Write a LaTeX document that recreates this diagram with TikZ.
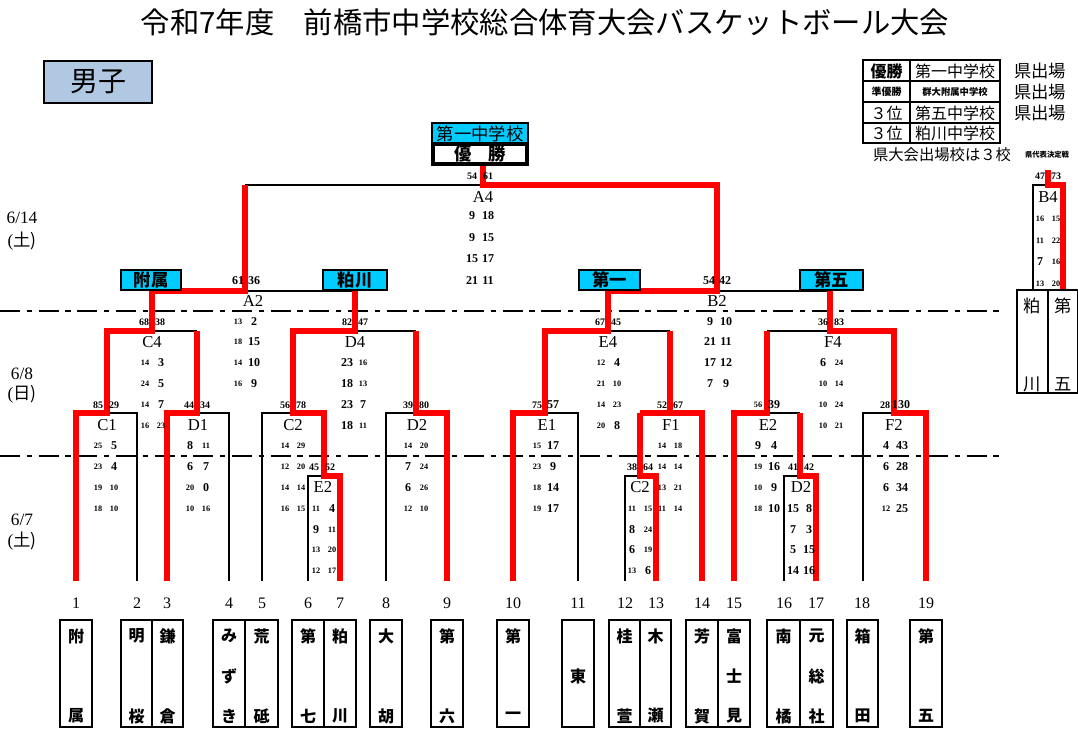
\documentclass[tikz,border=0pt]{standalone}
\usepackage{fontspec}
\setmainfont{Liberation Serif}
\newfontfamily\cjk{Noto Sans CJK JP}
\definecolor{cyanbox}{HTML}{00CCFF}
\definecolor{boybox}{HTML}{B0C8E2}
\newcounter{scn}
\tikzset{
  blk/.style={line width=1.1pt, black},
  rd/.style={line width=3.8pt, red, line join=miter},
  dd/.style={line width=1.3pt, black, dash pattern=on 15pt off 5pt on 4pt off 5pt},
  n/.style={inner sep=0pt, font=\fontsize{9}{9}\selectfont\bfseries},
  s/.style={inner sep=0pt, font=\fontsize{6.2}{6.2}\selectfont\bfseries},
  m/.style={inner sep=0pt, font=\fontsize{7.5}{7.5}\selectfont\bfseries},
  lab/.style={inner sep=0pt, font=\fontsize{12.5}{12.5}\selectfont},
  cy/.style={draw=black, line width=1.3pt, fill=cyanbox},
  cyt/.style={inner sep=0pt, font=\fontsize{13}{13}\selectfont\cjk\bfseries},
  tb/.style={draw=black, line width=1.1pt},
  tn/.style={inner sep=0pt, font=\fontsize{12}{12}\selectfont\cjk\bfseries},
  num/.style={inner sep=0pt, font=\fontsize{12}{12}\selectfont},
  dt/.style={inner sep=0pt, font=\fontsize{13}{13}\selectfont},
  lg/.style={draw=black, line width=1.5pt},
  lgt/.style={inner sep=0pt, font=\fontsize{12}{12}\selectfont\cjk},
}
\newcommand{\qs}[6]{\stepcounter{scn}%
  \node[#3] (qa\thescn) at ({#1-8},#2) {#4};%
  \node[#5] (qb\thescn) at ({#1+8},#2) {#6};}
\begin{document}
\begin{tikzpicture}[x=0.75pt,y=-0.75pt]
\useasboundingbox (0,0) rectangle (1078,730);
\fill[white] (0,0) rectangle (1078,730);

% title
\node[inner sep=0pt, font=\fontsize{22}{22}\selectfont\cjk] (title) at (545,22) {令和7年度　前橋市中学校総合体育大会バスケットボール大会};
\draw[line width=2.2pt, fill=boybox] (44,61) rectangle (152,103);
\node[inner sep=0pt, font=\fontsize{21}{21}\selectfont\cjk] (boys) at (98,82) {男子};

% legend
\draw[lg] (863,60) rectangle (910,81); \draw[lg] (910,60) rectangle (1000,81);
\draw[lg] (863,81) rectangle (910,102); \draw[lg] (910,81) rectangle (1000,102);
\draw[lg] (863,102) rectangle (910,123); \draw[lg] (910,102) rectangle (1000,123);
\draw[lg] (863,123) rectangle (910,143); \draw[lg] (910,123) rectangle (1000,143);
\node[lgt, font=\fontsize{12}{12}\selectfont\cjk\bfseries] (l1a) at (886.5,71) {優勝};
\node[lgt] (l1b) at (955,71) {第一中学校};
\node[lgt, font=\fontsize{7.5}{7.5}\selectfont\cjk\bfseries] (l2a) at (886.5,92) {準優勝};
\node[lgt, font=\fontsize{7}{7}\selectfont\cjk\bfseries] (l2b) at (955,92) {群大附属中学校};
\node[lgt] (l3a) at (886.5,113) {３位};
\node[lgt] (l3b) at (955,113) {第五中学校};
\node[lgt] (l4a) at (886.5,133) {３位};
\node[lgt] (l4b) at (955,133) {粕川中学校};
\node[lgt, font=\fontsize{13}{13}\selectfont\cjk] (k1) at (1040,71) {県出場};
\node[lgt, font=\fontsize{13}{13}\selectfont\cjk] (k2) at (1040,92) {県出場};
\node[lgt, font=\fontsize{13}{13}\selectfont\cjk] (k3) at (1040,113) {県出場};
\node[lgt, font=\fontsize{11.5}{11.5}\selectfont\cjk] (ken3) at (942,155) {県大会出場校は３校};
\node[lgt, font=\fontsize{5.5}{5.5}\selectfont\cjk\bfseries] (kdk) at (1047,155) {県代表決定戦};

% dates
\node[dt] (d1a) at (22,218) {6/14};
\node[dt] (d1b) at (22,241) {(\cjk 土)};
\node[dt] (d2a) at (22,374) {6/8};
\node[dt] (d2b) at (22,394) {(\cjk 日)};
\node[dt] (d3a) at (22,520) {6/7};
\node[dt] (d3b) at (22,541) {(\cjk 土)};

% dash-dot separators
\draw[dd] (0,311) -- (1000,311);
\draw[dd] (0,456) -- (1000,456);

% black bracket lines
\draw[blk] (137,581) -- (137,413) -- (107,413);
\draw[blk] (229,581) -- (229,413) -- (197,413);
\draw[blk] (262,581) -- (262,413) -- (293,413);
\draw[blk] (308,581) -- (308,476) -- (324,476);
\draw[blk] (386,581) -- (386,413) -- (416,413);
\draw[blk] (578,581) -- (578,413) -- (545,413);
\draw[blk] (625,581) -- (625,476) -- (640,476);
\draw[blk] (784,581) -- (784,476) -- (800,476);
\draw[blk] (863,581) -- (863,413) -- (894,413);
\draw[blk] (152,331) -- (197,331);
\draw[blk] (355,331) -- (416,331);
\draw[blk] (608,331) -- (670,331);
\draw[blk] (767,331) -- (830,331);
\draw[blk] (767,413) -- (800,413);
\draw[blk] (245,291) -- (355,291);
\draw[blk] (717,291) -- (830,291);
\draw[blk] (245,185) -- (483,185);
\draw[blk] (1033,290) -- (1033,185) -- (1048,185);

% red winner paths
\draw[rd] (76,581) -- (76,413) -- (107,413) -- (107,331) -- (152,331) -- (152,291) -- (245,291) -- (245,185);
\draw[rd] (167,581) -- (167,413) -- (197,413) -- (197,331);
\draw[rd] (340,581) -- (340,476) -- (324,476) -- (324,413) -- (293,413) -- (293,331) -- (355,331) -- (355,291);
\draw[rd] (447,581) -- (447,413) -- (416,413) -- (416,331);
\draw[rd] (513,581) -- (513,413) -- (545,413) -- (545,331) -- (608,331) -- (608,291) -- (717,291) -- (717,185) -- (483,185) -- (483,165);
\draw[rd] (656,581) -- (656,476) -- (640,476) -- (640,413);
\draw[rd] (702,581) -- (702,413) -- (640,413);
\draw[rd] (670,413) -- (670,331);
\draw[rd] (734,581) -- (734,413) -- (767,413) -- (767,331);
\draw[rd] (816,581) -- (816,476) -- (800,476) -- (800,413);
\draw[rd] (926,581) -- (926,413) -- (894,413) -- (894,331) -- (830,331) -- (830,291);
\draw[rd] (1063,290) -- (1063,185) -- (1048,185) -- (1048,170);

% top boxes
\draw[line width=1.1pt, fill=cyanbox] (432,123) rectangle (528,143);
\node[inner sep=0pt, font=\fontsize{13}{13}\selectfont\cjk] (champ) at (480,133.5) {第一中学校};
\draw[line width=2.6pt, fill=white] (433,144) rectangle (527,164);
\node[cyt] (yusho) at (480,154) {優　勝};
\draw[cy] (121,270) rectangle (181,290);
\node[cyt] (cfz) at (151,280) {附属};
\draw[cy] (323,270) rectangle (387,290);
\node[cyt] (ckk) at (355,280) {粕川};
\draw[cy] (579,270) rectangle (640,290);
\node[cyt] (cd1) at (609.5,280) {第一};
\draw[cy] (800,270) rectangle (863,290);
\node[cyt] (cd5) at (831.5,280) {第五};

% B4 name boxes
\draw[tb] (1017,290) rectangle (1048,393);
\draw[tb] (1048,290) rectangle (1077.5,393);
\node[inner sep=0pt, font=\fontsize{13}{13}\selectfont\cjk] (b4a1) at (1032.5,306) {粕};
\node[inner sep=0pt, font=\fontsize{13}{13}\selectfont\cjk] (b4a2) at (1032.5,384) {川};
\node[inner sep=0pt, font=\fontsize{13}{13}\selectfont\cjk] (b4b1) at (1063,306) {第};
\node[inner sep=0pt, font=\fontsize{13}{13}\selectfont\cjk] (b4b2) at (1063,384) {五};

% match labels
\node[lab] (A4) at (483,197) {A4};
\node[lab] (A2) at (253,301) {A2};
\node[lab] (B2) at (717,301) {B2};
\node[lab] (C4) at (152,342) {C4};
\node[lab] (D4) at (355,342) {D4};
\node[lab] (E4) at (608,342) {E4};
\node[lab] (F4) at (833,342) {F4};
\node[lab] (C1) at (107,425) {C1};
\node[lab] (D1) at (198,425) {D1};
\node[lab] (C2a) at (293,425) {C2};
\node[lab] (D2a) at (417,425) {D2};
\node[lab] (E1) at (547,425) {E1};
\node[lab] (F1) at (671,425) {F1};
\node[lab] (E2b) at (768,425) {E2};
\node[lab] (F2) at (894,425) {F2};
\node[lab] (E2a) at (323,487) {E2};
\node[lab] (C2b) at (640,487) {C2};
\node[lab] (D2b) at (801,487) {D2};
\node[lab] (B4) at (1048,197) {B4};

% scores
\qs{480}{176}{m}{54}{m}{61}
\qs{480}{216}{n}{9}{n}{18}
\qs{480}{238}{n}{9}{n}{15}
\qs{480}{259}{n}{15}{n}{17}
\qs{480}{281}{n}{21}{n}{11}

\qs{246}{281}{n}{61}{n}{36}
\qs{246}{322}{s}{13}{n}{2}
\qs{246}{342}{s}{18}{n}{15}
\qs{246}{363}{s}{14}{n}{10}
\qs{246}{384}{s}{16}{n}{9}

\qs{717}{281}{n}{54}{n}{42}
\qs{718}{322}{n}{9}{n}{10}
\qs{718}{342}{n}{21}{n}{11}
\qs{718}{363}{n}{17}{n}{12}
\qs{718}{384}{n}{7}{n}{9}

\qs{152}{322}{m}{68}{m}{38}
\qs{153}{363}{s}{14}{n}{3}
\qs{153}{384}{s}{24}{n}{5}
\qs{153}{405}{s}{14}{n}{7}
\qs{153}{426}{s}{16}{s}{23}

\qs{355}{322}{m}{82}{m}{47}
\qs{355}{363}{n}{23}{s}{16}
\qs{355}{384}{n}{18}{s}{13}
\qs{355}{405}{n}{23}{n}{7}
\qs{355}{426}{n}{18}{s}{11}

\qs{608}{322}{m}{67}{m}{45}
\qs{609}{363}{s}{12}{n}{4}
\qs{609}{384}{s}{21}{s}{10}
\qs{609}{405}{s}{14}{s}{23}
\qs{609}{426}{s}{20}{n}{8}

\qs{831}{322}{m}{36}{m}{83}
\qs{831}{363}{n}{6}{s}{24}
\qs{831}{384}{s}{10}{s}{14}
\qs{831}{405}{s}{10}{s}{24}
\qs{831}{426}{s}{10}{s}{21}

\qs{106}{405}{m}{85}{m}{29}
\qs{106}{446}{s}{25}{n}{5}
\qs{106}{467}{s}{23}{n}{4}
\qs{106}{488}{s}{19}{s}{10}
\qs{106}{509}{s}{18}{s}{10}

\qs{197}{405}{m}{44}{m}{34}
\qs{198}{446}{n}{8}{s}{11}
\qs{198}{467}{n}{6}{n}{7}
\qs{198}{488}{s}{20}{n}{0}
\qs{198}{509}{s}{10}{s}{16}

\qs{293}{405}{m}{56}{m}{78}
\qs{293}{446}{s}{14}{s}{29}
\qs{293}{467}{s}{12}{s}{20}
\qs{293}{488}{s}{14}{s}{14}
\qs{293}{509}{s}{16}{s}{15}

\qs{416}{405}{m}{39}{m}{80}
\qs{416}{446}{s}{14}{s}{20}
\qs{416}{467}{n}{7}{s}{24}
\qs{416}{488}{n}{6}{s}{26}
\qs{416}{509}{s}{12}{s}{10}

\qs{322}{467}{m}{45}{m}{52}
\qs{324}{509}{s}{11}{n}{4}
\qs{324}{530}{n}{9}{s}{11}
\qs{324}{550}{s}{13}{s}{20}
\qs{324}{571}{s}{12}{s}{17}

\qs{545}{405}{m}{75}{n}{57}
\qs{545}{446}{s}{15}{n}{17}
\qs{545}{467}{s}{23}{n}{9}
\qs{545}{488}{s}{18}{n}{14}
\qs{545}{509}{s}{19}{n}{17}

\qs{670}{405}{m}{52}{m}{67}
\qs{670}{446}{s}{14}{s}{18}
\qs{670}{467}{s}{14}{s}{14}
\qs{670}{488}{s}{13}{s}{21}
\qs{670}{509}{s}{11}{s}{14}

\qs{640}{467}{m}{38}{m}{64}
\qs{640}{509}{s}{11}{s}{15}
\qs{640}{530}{n}{8}{s}{24}
\qs{640}{550}{n}{6}{s}{19}
\qs{640}{571}{s}{13}{n}{6}

\qs{766}{405}{s}{56}{n}{39}
\qs{766}{446}{n}{9}{n}{4}
\qs{766}{467}{s}{19}{n}{16}
\qs{766}{488}{s}{10}{n}{9}
\qs{766}{509}{s}{18}{n}{10}

\qs{801}{467}{m}{41}{m}{42}
\qs{801}{509}{n}{15}{n}{8}
\qs{801}{530}{n}{7}{n}{3}
\qs{801}{550}{n}{5}{n}{15}
\qs{801}{571}{n}{14}{n}{16}

\qs{893}{405}{m}{28}{n}{130}
\qs{894}{446}{n}{4}{n}{43}
\qs{894}{467}{n}{6}{n}{28}
\qs{894}{488}{n}{6}{n}{34}
\qs{894}{509}{s}{12}{n}{25}

\qs{1048}{176}{m}{47}{m}{73}
\qs{1048}{219}{s}{16}{s}{15}
\qs{1048}{241}{s}{11}{s}{22}
\qs{1048}{262}{n}{7}{s}{16}
\qs{1048}{284}{s}{13}{s}{20}

% seed numbers
\node[num] (p1) at (76,603) {1};
\node[num] (p2) at (137,603) {2};
\node[num] (p3) at (167,603) {3};
\node[num] (p4) at (229,603) {4};
\node[num] (p5) at (262,603) {5};
\node[num] (p6) at (308,603) {6};
\node[num] (p7) at (340,603) {7};
\node[num] (p8) at (386,603) {8};
\node[num] (p9) at (447,603) {9};
\node[num] (p10) at (513,603) {10};
\node[num] (p11) at (578,603) {11};
\node[num] (p12) at (625,603) {12};
\node[num] (p13) at (656,603) {13};
\node[num] (p14) at (702,603) {14};
\node[num] (p15) at (734,603) {15};
\node[num] (p16) at (784,603) {16};
\node[num] (p17) at (816,603) {17};
\node[num] (p18) at (862,603) {18};
\node[num] (p19) at (926,603) {19};

% team boxes
\draw[tb] (60,620) rectangle (92,727);
\draw[tb] (121,620) rectangle (152,727); \draw[tb] (152,620) rectangle (183,727);
\draw[tb] (213,620) rectangle (245,727); \draw[tb] (245,620) rectangle (278,727);
\draw[tb] (292,620) rectangle (324,727); \draw[tb] (324,620) rectangle (356,727);
\draw[tb] (370,620) rectangle (402,727);
\draw[tb] (431,620) rectangle (463,727);
\draw[tb] (497,620) rectangle (529,727);
\draw[tb] (562,620) rectangle (594,727);
\draw[tb] (609,620) rectangle (640,727); \draw[tb] (640,620) rectangle (671,727);
\draw[tb] (686,620) rectangle (718,727); \draw[tb] (718,620) rectangle (750,727);
\draw[tb] (767,620) rectangle (800,727); \draw[tb] (800,620) rectangle (833,727);
\draw[tb] (847,620) rectangle (878,727);
\draw[tb] (910,620) rectangle (942,727);

% team names
\node[tn] (t1a) at (76,636) {附}; \node[tn] (t1b) at (76,716) {属};
\node[tn] (t2a) at (136.5,636) {明}; \node[tn] (t2b) at (136.5,716) {桜};
\node[tn] (t3a) at (167.5,636) {鎌}; \node[tn] (t3b) at (167.5,716) {倉};
\node[tn] (t4a) at (229,636) {み}; \node[tn] (t4b) at (229,676) {ず}; \node[tn] (t4c) at (229,716) {き};
\node[tn] (t5a) at (261.5,636) {荒}; \node[tn] (t5b) at (261.5,716) {砥};
\node[tn] (t6a) at (308,636) {第}; \node[tn] (t6b) at (308,716) {七};
\node[tn] (t7a) at (340,636) {粕}; \node[tn] (t7b) at (340,716) {川};
\node[tn] (t8a) at (386,636) {大}; \node[tn] (t8b) at (386,716) {胡};
\node[tn] (t9a) at (447,636) {第}; \node[tn] (t9b) at (447,716) {六};
\node[tn] (t10a) at (513,636) {第}; \node[tn] (t10b) at (513,716) {一};
\node[tn] (t11a) at (578,676) {東};
\node[tn] (t12a) at (624.5,636) {桂}; \node[tn] (t12b) at (624.5,716) {萱};
\node[tn] (t13a) at (655.5,636) {木}; \node[tn] (t13b) at (655.5,716) {瀬};
\node[tn] (t14a) at (702,636) {芳}; \node[tn] (t14b) at (702,716) {賀};
\node[tn] (t15a) at (734,636) {富}; \node[tn] (t15b) at (734,676) {士}; \node[tn] (t15c) at (734,716) {見};
\node[tn] (t16a) at (783.5,636) {南}; \node[tn] (t16b) at (783.5,716) {橘};
\node[tn] (t17a) at (816.5,636) {元}; \node[tn] (t17b) at (816.5,676) {総}; \node[tn] (t17c) at (816.5,716) {社};
\node[tn] (t18a) at (862.5,636) {箱}; \node[tn] (t18b) at (862.5,716) {田};
\node[tn] (t19a) at (926,636) {第}; \node[tn] (t19b) at (926,716) {五};
\end{tikzpicture}
\end{document}
